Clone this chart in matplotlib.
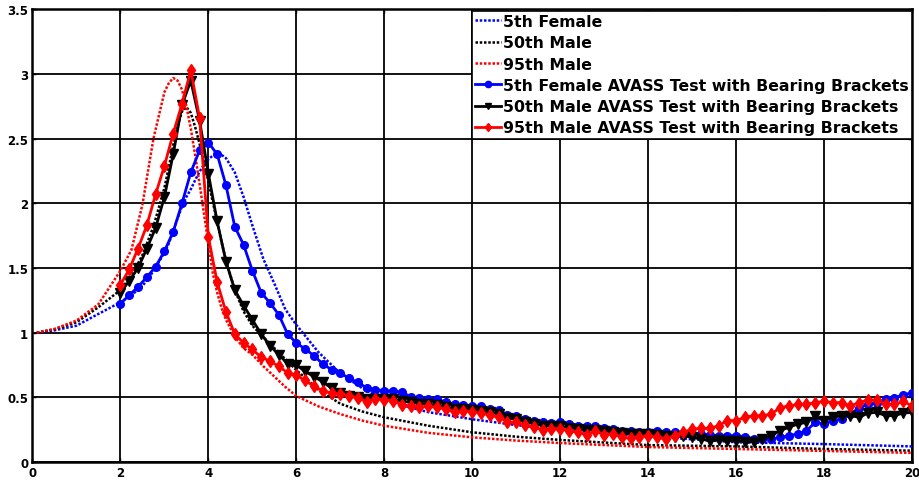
import numpy as np
import matplotlib
matplotlib.use("Agg")
import matplotlib.pyplot as plt

# ---- model transmissibility curves (dotted) ----
freq_model = [0.1, 0.5, 1.0, 1.5, 2.0, 2.25, 2.5, 2.75, 3.0, 3.1, 3.2, 3.3, 3.4, 3.5,
              3.6, 3.7, 3.8, 3.9, 4.0, 4.1, 4.2, 4.3, 4.4, 4.6, 4.8, 5.0, 5.25, 5.5,
              5.75, 6.0, 6.5, 7.0, 7.5, 8.0, 9.0, 10.0, 11.0, 12.0, 14.0, 16.0, 18.0, 20.0]

female05_model = [1.0, 1.018, 1.054, 1.145, 1.235, 1.29, 1.36, 1.475, 1.62, 1.69, 1.785, 1.885, 1.975, 2.05,
                  2.11, 2.18, 2.245, 2.30, 2.34, 2.37, 2.383, 2.375, 2.35, 2.24, 2.05, 1.83, 1.57, 1.38,
                  1.18, 1.06, 0.85, 0.685, 0.57, 0.475, 0.385, 0.33, 0.285, 0.25, 0.198, 0.152, 0.138, 0.12]

male50_model = [1.0, 1.025, 1.08, 1.197, 1.33, 1.44, 1.60, 1.82, 2.12, 2.28, 2.45, 2.60, 2.71, 2.745,
                2.70, 2.59, 2.46, 2.32, 2.17, 2.01, 1.86, 1.70, 1.56, 1.33, 1.165, 1.054, 0.965, 0.88,
                0.795, 0.71, 0.56, 0.45, 0.39, 0.345, 0.28, 0.229, 0.195, 0.17, 0.13, 0.12, 0.10, 0.087]

male95_model = [1.0, 1.029, 1.093, 1.22, 1.48, 1.64, 1.99, 2.50, 2.86, 2.93, 2.97, 2.95, 2.88, 2.75,
                2.58, 2.37, 2.15, 1.92, 1.69, 1.46, 1.31, 1.19, 1.10, 0.97, 0.88, 0.83, 0.74, 0.66,
                0.58, 0.51, 0.43, 0.37, 0.32, 0.28, 0.225, 0.19, 0.165, 0.146, 0.115, 0.10, 0.085, 0.07]

# ---- AVASS test with bearing brackets (2 to 20 Hz, 0.2 Hz steps) ----
freq_test = np.round(np.linspace(2.0, 20.0, 91), 1)

female05_test = [1.225, 1.29, 1.354, 1.43, 1.51, 1.63, 1.78, 2.00, 2.24, 2.41, 2.47, 2.38, 2.14, 1.82, 1.68,
                 1.48, 1.31, 1.23, 1.14, 0.99, 0.92,
                 0.874, 0.822, 0.758, 0.714, 0.688, 0.647, 0.616, 0.572, 0.559, 0.551,
                 0.549, 0.539, 0.505, 0.495, 0.487, 0.487, 0.461, 0.446, 0.443, 0.43,
                 0.43, 0.41, 0.40, 0.365, 0.358, 0.332, 0.32, 0.306, 0.30, 0.306,
                 0.293, 0.28, 0.275, 0.275, 0.262, 0.255, 0.242, 0.242, 0.234, 0.232,
                 0.242, 0.229, 0.229, 0.216, 0.216, 0.216, 0.208, 0.203, 0.203, 0.203,
                 0.195, 0.177, 0.177, 0.177, 0.19,
                 0.203, 0.216, 0.242, 0.306, 0.293, 0.32, 0.332, 0.37, 0.42, 0.446,
                 0.459, 0.485, 0.498, 0.517, 0.536]

male50_test = [1.31, 1.40, 1.50, 1.65, 1.81, 2.05, 2.38, 2.76, 2.95, 2.64, 2.23, 1.86, 1.55, 1.33, 1.21,
               1.10, 0.99, 0.90, 0.83, 0.76, 0.75,
               0.70, 0.66, 0.62, 0.57, 0.53, 0.51, 0.50, 0.49, 0.49, 0.49,
               0.485, 0.47, 0.46, 0.45, 0.445, 0.44, 0.425, 0.41, 0.41, 0.40,
               0.395, 0.385, 0.37, 0.34, 0.33, 0.31, 0.295, 0.28, 0.275, 0.275,
               0.265, 0.255, 0.245, 0.25, 0.24, 0.235, 0.22, 0.215, 0.215, 0.216,
               0.208, 0.203, 0.19, 0.203, 0.19, 0.177, 0.164, 0.172, 0.164, 0.164,
               0.156, 0.156, 0.177, 0.203, 0.242,
               0.268, 0.293, 0.306, 0.352, 0.32, 0.345, 0.358, 0.358, 0.345, 0.378,
               0.383, 0.358, 0.358, 0.378, 0.383]

male95_test = [1.37, 1.49, 1.65, 1.83, 2.07, 2.29, 2.54, 2.77, 3.03, 2.66, 1.74, 1.39, 1.16, 0.99, 0.92,
               0.87, 0.81, 0.78, 0.74, 0.69, 0.67,
               0.63, 0.585, 0.551, 0.531, 0.526, 0.513, 0.492, 0.466, 0.487, 0.482,
               0.474, 0.441, 0.435, 0.422, 0.430, 0.422, 0.409, 0.384, 0.397, 0.385,
               0.378, 0.363, 0.345, 0.311, 0.306, 0.288, 0.268, 0.25, 0.255, 0.255,
               0.242, 0.229, 0.211, 0.237, 0.211, 0.216, 0.19, 0.185, 0.19, 0.203,
               0.19, 0.177, 0.203, 0.229, 0.255, 0.26, 0.26, 0.28, 0.32, 0.32,
               0.345, 0.358, 0.358, 0.37, 0.42,
               0.433, 0.446, 0.446, 0.459, 0.468, 0.459, 0.459, 0.433, 0.459, 0.48,
               0.48, 0.446, 0.446, 0.468, 0.433]

labels = ["5th Female", "50th Male", "95th Male",
          "5th Female AVASS Test with Bearing Brackets",
          "50th Male AVASS Test with Bearing Brackets",
          "95th Male AVASS Test with Bearing Brackets"]

x_ticks = [0, 2, 4, 6, 8, 10, 12, 14, 16, 18, 20]
y_ticks = [0, 0.5, 1, 1.5, 2, 2.5, 3, 3.5]
y_tick_labels = ["0", "0.5", "1", "1.5", "2", "2.5", "3", "3.5"]

plt.rcParams["font.family"] = ["DejaVu Sans"]
plt.rcParams["font.weight"] = "bold"

fig = plt.figure(figsize=(9.2, 4.81), dpi=100)
ax = fig.add_axes([0.0353, 0.0376, 0.9560, 0.9406])

dot = (0, (1.0, 0.7))
ax.plot(freq_model, female05_model, color="#0000ff", lw=1.8, linestyle=dot, label=labels[0], zorder=3)
ax.plot(freq_model, male50_model, color="black", lw=1.8, linestyle=dot, label=labels[1], zorder=3)
ax.plot(freq_model, male95_model, color="#ff0000", lw=1.8, linestyle=dot, label=labels[2], zorder=3)

ax.plot(freq_test, female05_test, color="#0000ff", lw=2, marker="o", ms=5.5, label=labels[3], zorder=4)
ax.plot(freq_test, male50_test, color="black", lw=2, marker="v", ms=6.5, label=labels[4], zorder=4)
ax.plot(freq_test, male95_test, color="#ff0000", lw=2, marker="d", ms=6, label=labels[5], zorder=5)

ax.set_xlim(0, 20)
ax.set_ylim(0, 3.5)
ax.set_xticks(x_ticks)
ax.set_xticklabels([str(t) for t in x_ticks], fontsize=8.5, fontweight="bold")
ax.set_yticks(y_ticks)
ax.set_yticklabels(y_tick_labels, fontsize=8.5, fontweight="bold")
ax.tick_params(direction="in", length=3, width=1, pad=3, top=True, right=True)
ax.grid(True, color="black", lw=1.3, linestyle="-")
ax.set_axisbelow(True)
for s in ax.spines.values():
    s.set_linewidth(1.8)
    s.set_color("black")

leg = ax.legend(loc="upper right", bbox_to_anchor=(1.0, 0.997),
                prop={"weight": "bold", "size": 11.3},
                frameon=True, fancybox=False, edgecolor="black", framealpha=1,
                handlelength=1.65, handletextpad=0.15, labelspacing=0.40,
                borderpad=0.2, borderaxespad=0.0)
leg.get_frame().set_linewidth(1.2)
for h in leg.legend_handles:
    h.set_markersize(4.5)

fig.savefig("out.png", dpi=100)
